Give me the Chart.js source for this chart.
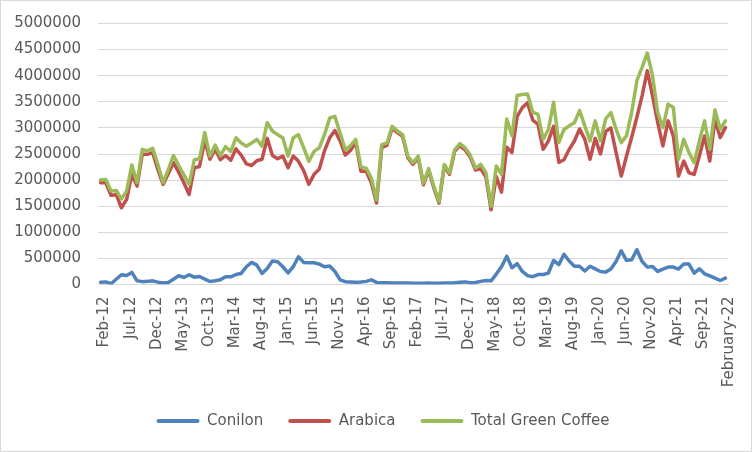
<!DOCTYPE html>
<html><head><meta charset="utf-8">
<script src="https://cdn.jsdelivr.net/npm/chart.js@4.4.0/dist/chart.umd.min.js"></script>
<style>
html,body{margin:0;padding:0;background:#fff;overflow:hidden}
#wrap{position:relative;width:752px;height:452px}
</style>
</head><body><div id="wrap"><canvas id="c"></canvas></div>
<script>
const categories = [
 'Feb-12','Mar-12','Apr-12','May-12','Jun-12','Jul-12','Aug-12','Sep-12','Oct-12','Nov-12','Dec-12',
 'Jan-13','Feb-13','Mar-13','Apr-13','May-13','Jun-13','Jul-13','Aug-13','Sep-13','Oct-13','Nov-13','Dec-13',
 'Jan-14','Feb-14','Mar-14','Apr-14','May-14','Jun-14','Jul-14','Aug-14','Sep-14','Oct-14','Nov-14','Dec-14',
 'Jan-15','Feb-15','Mar-15','Apr-15','May-15','Jun-15','Jul-15','Aug-15','Sep-15','Oct-15','Nov-15','Dec-15',
 'Jan-16','Feb-16','Mar-16','Apr-16','May-16','Jun-16','Jul-16','Aug-16','Sep-16','Oct-16','Nov-16','Dec-16',
 'Jan-17','Feb-17','Mar-17','Apr-17','May-17','Jun-17','Jul-17','Aug-17','Sep-17','Oct-17','Nov-17','Dec-17',
 'Jan-18','Feb-18','Mar-18','Apr-18','May-18','Jun-18','Jul-18','Aug-18','Sep-18','Oct-18','Nov-18','Dec-18',
 'Jan-19','Feb-19','Mar-19','Apr-19','May-19','Jun-19','Jul-19','Aug-19','Sep-19','Oct-19','Nov-19','Dec-19',
 'Jan-20','Feb-20','Mar-20','Apr-20','May-20','Jun-20','Jul-20','Aug-20','Sep-20','Oct-20','Nov-20','Dec-20',
 'Jan-21','Feb-21','Mar-21','Apr-21','May-21','Jun-21','Jul-21','Aug-21','Sep-21','Oct-21','Nov-21','Dec-21',
 'Jan-22','February-22'
];
const conilon = [
 45000,50000,15000,100000,186000,173000,231000,70000,55000,60000,70000,
 45000,30000,38000,100000,167000,135000,186000,141000,154000,103000,58000,71000,
 90000,150000,147000,192000,212000,340000,423000,372000,212000,308000,449000,436000,
 340000,224000,340000,532000,423000,417000,417000,391000,340000,353000,250000,90000,
 55000,50000,45000,50000,60000,90000,40000,35000,32000,30000,28000,28000,
 30000,25000,25000,25000,28000,25000,25000,28000,30000,35000,45000,50000,
 35000,40000,60000,75000,70000,200000,340000,540000,320000,400000,250000,170000,
 150000,190000,190000,220000,460000,380000,580000,450000,350000,350000,260000,350000,
 300000,250000,237000,295000,442000,647000,462000,474000,667000,442000,333000,346000,
 250000,295000,333000,333000,295000,391000,391000,218000,301000,205000,167000,122000,
 77000,122000
];
const arabica = [
 1950000,1950000,1710000,1720000,1470000,1630000,2110000,1885000,2494000,2494000,2526000,
 2200000,1917000,2120000,2330000,2150000,1950000,1724000,2237000,2260000,2760000,2400000,2590000,
 2390000,2470000,2380000,2600000,2480000,2310000,2280000,2370000,2400000,2800000,2470000,2410000,
 2460000,2235000,2460000,2360000,2180000,1920000,2110000,2210000,2560000,2810000,2950000,2750000,
 2480000,2570000,2720000,2170000,2170000,1950000,1560000,2620000,2670000,3000000,2910000,2840000,
 2430000,2300000,2430000,1910000,2190000,1850000,1560000,2270000,2110000,2550000,2660000,2580000,
 2440000,2190000,2220000,2060000,1430000,2070000,1770000,2630000,2530000,3220000,3390000,3480000,
 3150000,3070000,2590000,2750000,3030000,2340000,2390000,2590000,2750000,2980000,2780000,2400000,
 2800000,2500000,2930000,3000000,2530000,2077000,2457000,2821000,3203000,3615000,4096000,3615000,
 3103000,2654000,3135000,2846000,2077000,2365000,2141000,2109000,2462000,2846000,2365000,3167000,
 2814000,3006000
];
const totalGreenCoffee = [
 2000000,2010000,1790000,1800000,1640000,1790000,2290000,1950000,2590000,2560000,2610000,
 2300000,1950000,2200000,2470000,2280000,2100000,1920000,2390000,2410000,2910000,2460000,2670000,
 2470000,2640000,2550000,2810000,2710000,2650000,2710000,2780000,2650000,3100000,2940000,2870000,
 2810000,2460000,2810000,2870000,2620000,2360000,2550000,2620000,2870000,3190000,3220000,2900000,
 2580000,2660000,2780000,2250000,2230000,2040000,1620000,2680000,2710000,3030000,2940000,2870000,
 2460000,2330000,2460000,1940000,2220000,1880000,1590000,2300000,2140000,2580000,2700000,2620000,
 2480000,2230000,2300000,2140000,1500000,2270000,2110000,3170000,2850000,3620000,3640000,3650000,
 3300000,3260000,2780000,2970000,3490000,2720000,2970000,3040000,3100000,3330000,3040000,2750000,
 3135000,2750000,3170000,3295000,2974000,2718000,2846000,3295000,3904000,4160000,4436000,4000000,
 3295000,3006000,3455000,3391000,2397000,2782000,2526000,2333000,2750000,3135000,2590000,3346000,
 2974000,3135000
];
const yTickValues = [0,500000,1000000,1500000,2000000,2500000,3000000,3500000,4000000,4500000,5000000];
const xTickEvery = 5;
const seriesNames = ['Conilon','Arabica','Total Green Coffee'];
const seriesColors = ['#4F81BD','#C0504D','#9BBB59'];

const FONT = {family:'DejaVu Sans', size:15};
const TEXT = '#595959';
const GRID = '#d9d9d9';

const frame = {
  id:'frame',
  beforeDraw(chart){const c=chart.ctx;c.save();c.fillStyle='#fff';c.fillRect(0,0,chart.width,chart.height);c.restore();},
  afterDraw(chart){const c=chart.ctx;c.save();c.strokeStyle=GRID;c.lineWidth=1;c.strokeRect(0.5,0.5,chart.width-1,chart.height-1);c.restore();}
};
// nudge the built-in legend row to the right, as in the reference
const legendShift = {id:'legendShift', afterLayout(chart){ if (chart.legend) chart.legend.left += 24; }};

function ds(i, data, order){
  return {label:seriesNames[i], data, borderColor:seriesColors[i], backgroundColor:seriesColors[i],
    borderWidth:3.5, pointRadius:0, pointHoverRadius:0, tension:0, fill:false,
    borderJoinStyle:'round', borderCapStyle:'round', order};
}

new Chart(document.getElementById('c'), {
  type:'line',
  data:{labels:categories, datasets:[ds(0,conilon,3), ds(1,arabica,2), ds(2,totalGreenCoffee,1)]},
  options:{
    responsive:true, maintainAspectRatio:false, animation:false, devicePixelRatio:1,
    layout:{padding:{left:14,right:24,top:23.5,bottom:13.5}},
    plugins:{
      tooltip:{enabled:false},
      legend:{position:'bottom',
        labels:{boxWidth:43, boxHeight:4, useBorderRadius:true, borderRadius:2, padding:25, color:TEXT, font:FONT,
          sort:(a,b)=>a.datasetIndex-b.datasetIndex,
          generateLabels(chart){
            return Chart.defaults.plugins.legend.labels.generateLabels(chart).map(l=>Object.assign(l,{lineWidth:0, fillStyle:l.strokeStyle}));
          }}}
    },
    scales:{
      x:{type:'category', offset:true,
        grid:{display:false, drawTicks:false},
        border:{display:true, color:GRID, width:1},
        ticks:{autoSkip:false, minRotation:90, maxRotation:90, padding:12, labelOffset:4, color:TEXT, font:FONT,
          callback:(v,i)=> (i % xTickEvery === 0 ? categories[i] : '')},
        afterFit:s=>{s.height=104; s.paddingLeft=0; s.paddingRight=0;}},
      y:{min:0, max:5000000,
        afterBuildTicks:s=>{s.ticks=yTickValues.map(v=>({value:v}));},
        afterFit:s=>{s.width=84; s.paddingTop=0; s.paddingBottom=0;},
        grid:{color:GRID, drawTicks:false, lineWidth:1},
        border:{display:false},
        ticks:{padding:17, color:TEXT, font:FONT, callback:v=>String(v)}}
    }
  },
  plugins:[frame, legendShift]
});
</script></body></html>
